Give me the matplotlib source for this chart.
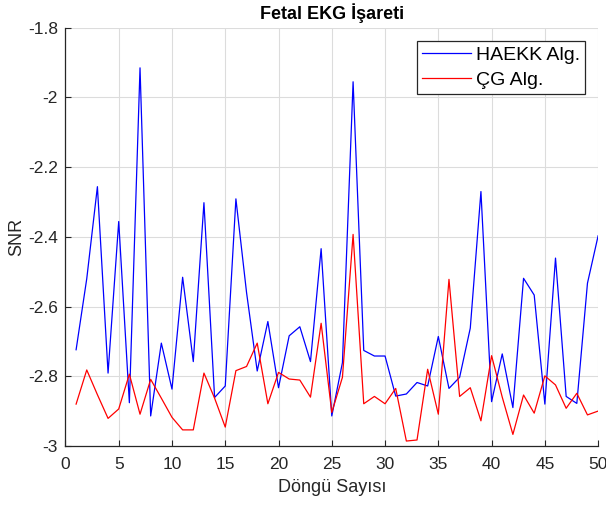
import numpy as np
import matplotlib
matplotlib.use('Agg')
import matplotlib.pyplot as plt

plt.rcParams['font.family'] = ['Liberation Sans', 'DejaVu Sans']

# Döngü sayısı 1..50
dongu = np.arange(1, 51)

# HAEKK algoritması SNR değerleri
haekk = [-2.724, -2.52, -2.256, -2.791, -2.356, -2.876, -1.915, -2.914, -2.705, -2.837,
         -2.516, -2.758, -2.302, -2.861, -2.828, -2.291, -2.56, -2.785, -2.643, -2.833,
         -2.684, -2.658, -2.758, -2.434, -2.914, -2.761, -1.955, -2.726, -2.742, -2.742,
         -2.857, -2.851, -2.818, -2.828, -2.686, -2.835, -2.803, -2.662, -2.270, -2.873,
         -2.736, -2.890, -2.519, -2.567, -2.880, -2.461, -2.858, -2.878, -2.533, -2.397]

# ÇG algoritması SNR değerleri
cg = [-2.880, -2.782, -2.853, -2.921, -2.894, -2.794, -2.909, -2.809, -2.863, -2.918,
      -2.954, -2.954, -2.791, -2.863, -2.946, -2.784, -2.772, -2.705, -2.879, -2.789,
      -2.808, -2.811, -2.860, -2.648, -2.904, -2.803, -2.393, -2.879, -2.858, -2.879,
      -2.835, -2.986, -2.983, -2.780, -2.909, -2.522, -2.858, -2.833, -2.928, -2.741,
      -2.86, -2.967, -2.854, -2.906, -2.799, -2.825, -2.892, -2.849, -2.911, -2.900]

yticks = [-3, -2.8, -2.6, -2.4, -2.2, -2, -1.8]
ytick_labels = ['-3', '-2.8', '-2.6', '-2.4', '-2.2', '-2', '-1.8']
xticks = [0, 5, 10, 15, 20, 25, 30, 35, 40, 45, 50]

axis_col = '#262626'

fig = plt.figure(figsize=(6.06, 5.05), dpi=100)
ax = fig.add_axes([0.108, 0.117, 0.879, 0.828])

ax.plot(dongu, haekk, color='#0000ff', lw=0.9, label='HAEKK Alg.')
ax.plot(dongu, cg, color='#ff0000', lw=0.9, label='ÇG Alg.')

ax.set_xlim(0, 50)
ax.set_ylim(-3, -1.8)
ax.set_xticks(xticks)
ax.set_yticks(yticks)
ax.set_yticklabels(ytick_labels)

ax.grid(True, color='#dcdcdc', lw=0.8)
ax.set_axisbelow(True)
for s in ['top', 'right']:
    ax.spines[s].set_visible(False)
for s in ['left', 'bottom']:
    ax.spines[s].set_color(axis_col)
    ax.spines[s].set_linewidth(0.9)
ax.tick_params(direction='in', length=4, colors=axis_col, labelsize=12.5)
ax.tick_params(axis='x', pad=8)
ax.tick_params(axis='y', pad=5.5)

ax.set_title('Fetal EKG İşareti', fontsize=13, fontweight='bold', color='black', pad=6)
ax.set_xlabel('Döngü Sayısı', fontsize=13, color=axis_col, labelpad=5)
ax.set_ylabel('SNR', fontsize=13, color=axis_col, labelpad=2)

leg = ax.legend(loc='upper right', fontsize=14, fancybox=False, framealpha=1,
                edgecolor=axis_col, borderpad=0.25, labelspacing=0.4, handlelength=2.5,
                handletextpad=0.25, borderaxespad=0.7)
leg.get_frame().set_linewidth(0.9)

fig.savefig('out.png', dpi=100)
